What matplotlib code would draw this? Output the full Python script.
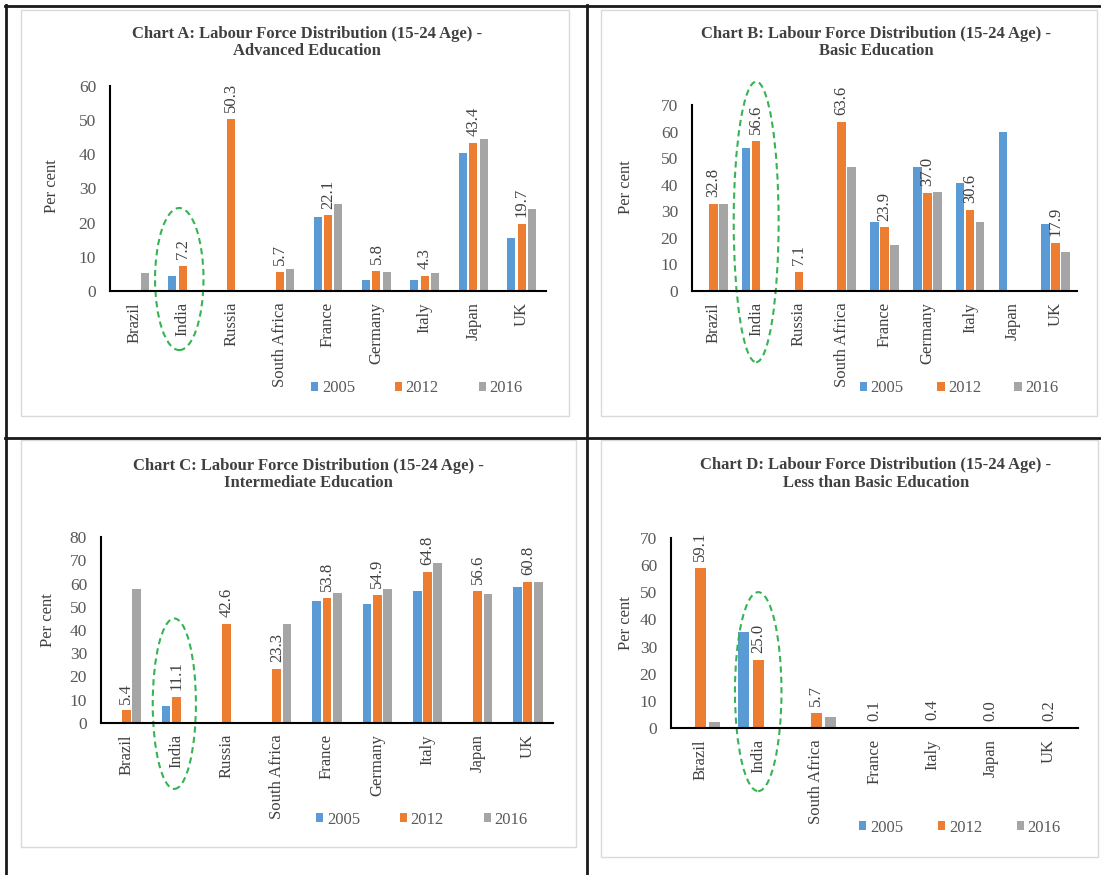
import numpy as np
import matplotlib
matplotlib.use("Agg")
import matplotlib.pyplot as plt
from matplotlib.patches import Ellipse, Rectangle, Patch
from matplotlib.lines import Line2D

plt.rcParams['font.family'] = ['Liberation Serif', 'DejaVu Serif']

nan = np.nan

# Chart A: Advanced education
cats_a = ["Brazil", "India", "Russia", "South Africa", "France", "Germany", "Italy", "Japan", "UK"]
a_2005 = [nan, 4.3, nan, nan, 21.8, 3.2, 3.2, 40.3, 15.6]
a_2012 = [nan, 7.2, 50.3, 5.7, 22.1, 5.8, 4.3, 43.4, 19.7]
a_2016 = [5.2, nan, nan, 6.3, 25.5, 5.7, 5.2, 44.5, 23.9]

# Chart B: Basic education
cats_b = ["Brazil", "India", "Russia", "South Africa", "France", "Germany", "Italy", "Japan", "UK"]
b_2005 = [nan, 54.0, nan, nan, 26.1, 46.5, 40.7, 59.8, 25.3]
b_2012 = [32.8, 56.6, 7.1, 63.6, 23.9, 37.0, 30.6, nan, 17.9]
b_2016 = [32.8, nan, nan, 46.5, 17.3, 37.2, 26.1, nan, 14.7]

# Chart C: Intermediate education
cats_c = ["Brazil", "India", "Russia", "South Africa", "France", "Germany", "Italy", "Japan", "UK"]
c_2005 = [nan, 7.1, nan, nan, 52.4, 51.0, 56.9, nan, 58.6]
c_2012 = [5.4, 11.1, 42.6, 23.3, 53.8, 54.9, 64.8, 56.6, 60.8]
c_2016 = [57.7, nan, nan, 42.6, 56.1, 57.7, 69.0, 55.4, 60.7]

# Chart D: Less than basic education
cats_d = ["Brazil", "India", "South Africa", "France", "Italy", "Japan", "UK"]
d_2005 = [nan, 35.3, nan, nan, nan, nan, nan]
d_2012 = [59.1, 25.0, 5.7, 0.1, 0.4, 0.0, 0.2]
d_2016 = [2.1, nan, 4.1, nan, nan, nan, nan]

years = ["2005", "2012", "2016"]
colors = ["#5B9BD5", "#ED7D31", "#A5A5A5"]

W, H = 1101, 875
fig = plt.figure(figsize=(W / 100, H / 100), dpi=100)


def px_rect(x0, y0, x1, y1):
    # pixel box (top-left origin) -> figure fraction rect
    return [x0 / W, 1 - y1 / H, (x1 - x0) / W, (y1 - y0) / H]


def draw_panel(rect, cats, series, ymax, width, step, title, title_xy,
               ylab_xy, leg_xy, colspace, ring):
    ax = fig.add_axes(px_rect(*rect))
    x = np.arange(len(cats))
    for i, (vals, col, yr) in enumerate(zip(series, colors, years)):
        ax.bar(x + (i - 1) * step, vals, width=width, color=col, label=yr)
    # value labels for the 2012 series
    for xi, v in zip(x, series[1]):
        if not np.isnan(v):
            ax.annotate(f"{v:.1f}", (xi, v), xytext=(0, 5), textcoords="offset points",
                        rotation=90, ha="center", va="bottom", fontsize=12, color="#404040")
    ax.set_xlim(-0.5, len(cats) - 0.5)
    ax.set_ylim(0, ymax)
    ax.set_yticks(np.arange(0, ymax + 1, 10))
    ax.set_xticks(x)
    ax.set_xticklabels(cats, rotation=90, fontsize=12, color="#404040")
    ax.tick_params(axis="y", length=0, pad=10, labelsize=12.5, labelcolor="#595959")
    ax.tick_params(axis="x", length=0, pad=8)
    for s in ["top", "right"]:
        ax.spines[s].set_visible(False)
    for s in ["left", "bottom"]:
        ax.spines[s].set_linewidth(1.5)
        ax.spines[s].set_color("black")
    ax.text(ylab_xy[0], ylab_xy[1], "Per cent", rotation=90, ha="center", va="center",
            transform=ax.transAxes, fontsize=12, color="#404040")
    handles = [Patch(facecolor=c, edgecolor="none") for c in colors]
    ax.legend(handles, years, ncol=3, loc="center", bbox_to_anchor=leg_xy, frameon=False,
              fontsize=12, labelcolor="#595959", handlelength=0.45, handleheight=0.45,
              handletextpad=0.2, columnspacing=colspace)
    fig.text(title_xy[0] / W, 1 - title_xy[1] / H, title, ha="center", va="center",
             fontsize=12, fontweight="bold", color="#404040", linespacing=1.12)
    # dashed ring around India
    cx, cy, ew, eh = ring
    ax.add_patch(Ellipse((cx, cy), ew, eh, fill=False, ec="#35b454", lw=1.5,
                         ls=(0, (3, 2)), clip_on=False))
    return ax


# light grey chart-area boxes
for bx in [(21, 10, 569, 416), (601, 10, 1097, 416), (21, 440, 576, 847), (601, 440, 1098, 857)]:
    fig.patches.append(Rectangle((bx[0] / W, 1 - bx[3] / H), (bx[2] - bx[0]) / W,
                                 (bx[3] - bx[1]) / H, transform=fig.transFigure,
                                 fill=False, ec="#d9d9d9", lw=1))

draw_panel((110, 86, 546, 291), cats_a, [a_2005, a_2012, a_2016], 60, 0.165, 0.215,
           "Chart A: Labour Force Distribution (15-24 Age) -\nAdvanced Education", (307, 42.5),
           (-0.133, 0.512), (0.704, -0.474), 2.4, (0.93, 3.5, 1.0, 41.6))
draw_panel((692, 105, 1077, 291), cats_b, [b_2005, b_2012, b_2016], 70, 0.2, 0.235,
           "Chart B: Labour Force Distribution (15-24 Age) -\nBasic Education", (876, 42.5),
           (-0.172, 0.56), (0.694, -0.522), 2.0, (1.0, 26, 1.05, 105.6))
draw_panel((101, 537, 553, 723), cats_c, [c_2005, c_2012, c_2016], 80, 0.175, 0.205,
           "Chart C: Labour Force Distribution (15-24 Age) -\nIntermediate Education", (308.5, 474.7),
           (-0.117, 0.554), (0.71, -0.519), 2.4, (0.96, 8.3, 0.86, 73.3))
draw_panel((671, 538, 1078, 728), cats_d, [d_2005, d_2012, d_2016], 70, 0.19, 0.25,
           "Chart D: Labour Force Distribution (15-24 Age) -\nLess than Basic Education", (876, 474),
           (-0.11, 0.553), (0.71, -0.525), 2.1, (1.0, 13.4, 0.8, 73.3))

# black frame lines dividing the four charts
for (x0, y0, x1, y1) in [(5, 6, W, 6), (6.5, 5, 6.5, H), (5, 437.5, W, 437.5), (586.7, 5, 586.7, H)]:
    fig.add_artist(Line2D([x0 / W, x1 / W], [1 - y0 / H, 1 - y1 / H], transform=fig.transFigure,
                          color="#1a1a1a", lw=2))

fig.savefig("out.png", dpi=100)
